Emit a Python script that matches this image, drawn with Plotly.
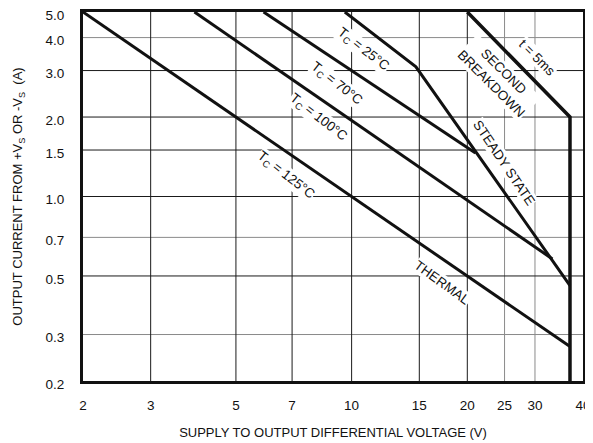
import math
import plotly.graph_objects as go

# ---- tick labels / grid ----
x_ticks = [2, 3, 5, 7, 10, 15, 20, 25, 30, 40]
x_ticktext = ["2", "3", "5", "7", "10", "15", "20", "25", "30", "40"]
y_ticks = [0.2, 0.3, 0.5, 0.7, 1.0, 1.5, 2.0, 3.0, 4.0, 5.0]
y_ticktext = ["0.2", "0.3", "0.5", "0.7", "1.0", "1.5", "2.0", "3.0", "4.0", "5.0"]
x_grid_dark = [3, 5, 7, 10, 15, 20]
x_grid_light = [25, 30]
y_grid_dark = [0.5, 1.0, 1.5, 2.0, 3.0]
y_grid_light = [0.3, 0.7, 4.0]

# ---- curves (V, A) ----
tc125_v = [2.0, 37.0]
tc125_i = [5.0, 0.27]
tc100_v = [3.9, 33.3]
tc100_i = [5.0, 0.58]
tc70_v = [5.9, 21.0]
tc70_i = [5.0, 1.46]
tc25_v = [9.6, 14.7, 37.0]
tc25_i = [5.0, 3.1, 0.46]
t5ms_v = [20.0, 37.0, 37.0]
t5ms_i = [5.0, 2.0, 0.2]

X_MIN, X_MAX = 2, 40
Y_MIN, Y_MAX = 0.2, 5.0

FONT = "Liberation Sans, Arial, sans-serif"

fig = go.Figure()


def grid_trace(xs, ys, color):
    fig.add_trace(go.Scatter(x=xs, y=ys, mode="lines",
                             line=dict(color=color, width=1),
                             hoverinfo="skip", showlegend=False))


def vgrid(vals, color):
    xs, ys = [], []
    for v in vals:
        xs += [v, v, None]
        ys += [Y_MIN, Y_MAX, None]
    grid_trace(xs, ys, color)


def hgrid(vals, color):
    xs, ys = [], []
    for v in vals:
        xs += [X_MIN, X_MAX, None]
        ys += [v, v, None]
    grid_trace(xs, ys, color)


vgrid(x_grid_light, "#8a8a8a")
hgrid(y_grid_light, "#8a8a8a")
vgrid(x_grid_dark, "#1a1a1a")
hgrid(y_grid_dark, "#1a1a1a")

for v, i, w in [(tc125_v, tc125_i, 3), (tc100_v, tc100_i, 3), (tc70_v, tc70_i, 3),
                (tc25_v, tc25_i, 3), (t5ms_v, t5ms_i, 3.5)]:
    fig.add_trace(go.Scatter(x=v, y=i, mode="lines",
                             line=dict(color="#111111", width=w),
                             hoverinfo="skip", showlegend=False))

labels = [
    ("T<sub>C</sub> = 25°C", 0.560, 0.899, 38),
    ("T<sub>C</sub> = 70°C", 0.506, 0.805, 38),
    ("T<sub>C</sub> = 100°C", 0.470, 0.713, 38),
    ("T<sub>C</sub> = 125°C", 0.406, 0.558, 38),
    ("THERMAL", 0.718, 0.268, 36),
    ("SECOND<br>BREAKDOWN", 0.828, 0.822, 45),
    ("STEADY STATE", 0.842, 0.593, 56),
    ("t = 5ms", 0.908, 0.878, 45),
]
for text, xp, yp, ang in labels:
    fig.add_annotation(text=text, x=xp, y=yp, xref="paper", yref="paper",
                       xanchor="center", yanchor="middle", showarrow=False,
                       textangle=ang, bgcolor="white", borderpad=0,
                       font=dict(family=FONT, size=13.5, color="#111111"))

# page body has an 8px margin: figure is placed at (8, 8)
fig.update_layout(
    width=585, height=435,
    margin=dict(l=75, r=10, t=4, b=62, autoexpand=False),
    paper_bgcolor="white", plot_bgcolor="white",
    font=dict(family=FONT, color="#111111"),
    showlegend=False,
)
fig.update_xaxes(
    type="log", range=[math.log10(X_MIN), math.log10(X_MAX)],
    tickmode="array", tickvals=x_ticks, ticktext=x_ticktext,
    showgrid=False, zeroline=False, ticks="", automargin=False,
    showline=True, mirror=True, linecolor="#111111", linewidth=3,
    tickfont=dict(family=FONT, size=13.5, color="#111111"),
    ticklabelstandoff=10, ticklabeloverflow="allow",
    title=dict(text="SUPPLY TO OUTPUT DIFFERENTIAL VOLTAGE (V)",
               font=dict(family=FONT, size=13, color="#111111"), standoff=16),
)
fig.update_yaxes(
    type="log", range=[math.log10(Y_MIN), math.log10(Y_MAX)],
    tickmode="array", tickvals=y_ticks, ticktext=y_ticktext,
    showgrid=False, zeroline=False, ticks="", automargin=False,
    showline=True, mirror=True, linecolor="#111111", linewidth=3,
    tickfont=dict(family=FONT, size=13.5, color="#111111"),
    ticklabelstandoff=13, ticklabeloverflow="allow", ticklabelshift=3,
    title=dict(text="OUTPUT CURRENT FROM +V<sub>S</sub> OR -V<sub>S</sub>  (A)",
               font=dict(family=FONT, size=13, color="#111111"), standoff=20),
)

fig.write_html("out.html")
